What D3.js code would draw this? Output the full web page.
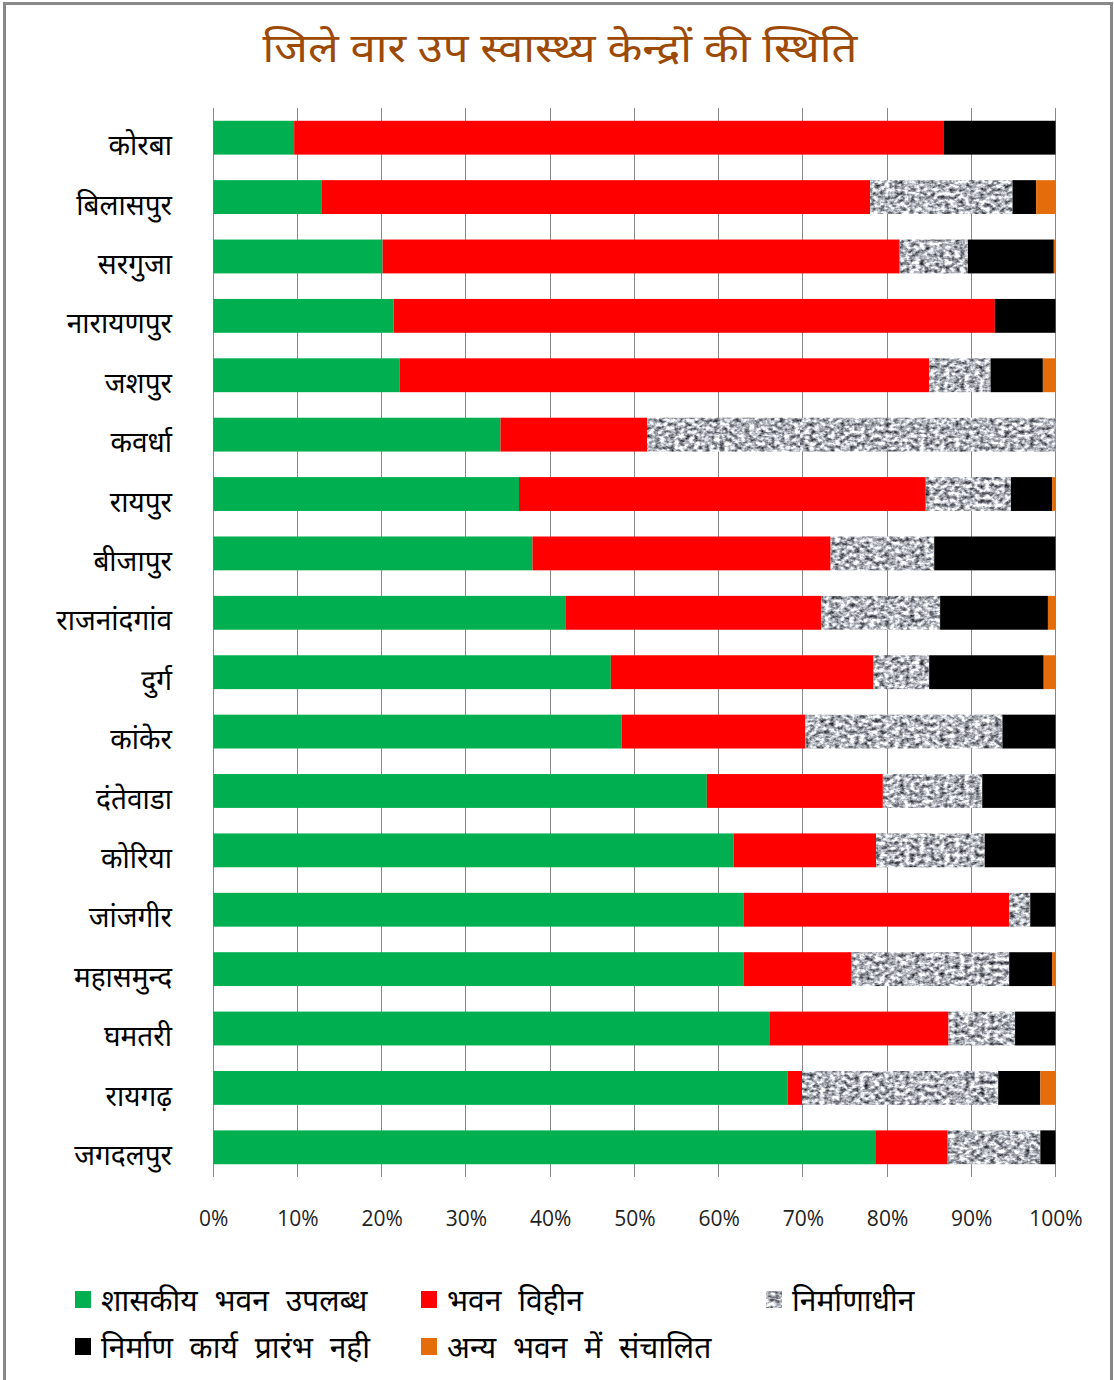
<!DOCTYPE html>
<html>
<head>
<meta charset="utf-8">
<script src="https://cdn.jsdelivr.net/npm/d3@7"></script>
<style>
  html, body { margin: 0; padding: 0; background: #fff; }
  svg { display: block; }
  .deva { font-family: "Noto Sans Devanagari", "Noto Sans", "Lohit Devanagari", sans-serif; }
</style>
</head>
<body>
<svg id="chart" width="1114" height="1380"></svg>
<script>
// District names, top to bottom
const districts = [
  "कोरबा", "बिलासपुर", "सरगुजा", "नारायणपुर", "जशपुर", "कवर्धा",
  "रायपुर", "बीजापुर", "राजनांदगांव", "दुर्ग", "कांकेर", "दंतेवाडा",
  "कोरिया", "जांजगीर", "महासमुन्द", "घमतरी", "रायगढ़", "जगदलपुर"
];

// Series names (legend order)
const seriesNames = [
  "शासकीय भवन उपलब्ध",
  "भवन विहीन",
  "निर्माणाधीन",
  "निर्माण कार्य प्रारंभ नही",
  "अन्य भवन में संचालित"
];

// Share of sub health centres per district (%)
const withBuilding   = [9.6, 12.9, 20.1, 21.4, 22.1, 34.1, 36.3, 37.9, 41.8, 47.2, 48.5, 58.6, 61.8, 63.0, 63.0, 66.1, 68.2, 78.6];
const withoutBuilding= [77.1, 65.1, 61.4, 71.4, 62.9, 17.4, 48.3, 35.4, 30.4, 31.2, 21.8, 20.9, 16.9, 31.5, 12.8, 21.2, 1.7, 8.6];
const underConstr    = [0, 16.9, 8.1, 0, 7.3, 48.5, 10.1, 12.3, 14.1, 6.6, 23.4, 11.8, 12.9, 2.5, 18.7, 7.9, 23.3, 11.0];
const notStarted     = [13.3, 2.8, 10.2, 7.2, 6.2, 0, 4.9, 14.4, 12.8, 13.6, 6.3, 8.7, 8.4, 3.0, 5.1, 4.8, 5.0, 1.8];
const otherBuilding  = [0, 2.3, 0.2, 0, 1.5, 0, 0.4, 0, 0.9, 1.4, 0, 0, 0, 0, 0.4, 0, 1.8, 0];

// Percent axis ticks
const tickValues = [0, 10, 20, 30, 40, 50, 60, 70, 80, 90, 100];

const title = "जिले वार उप स्वास्थ्य केन्द्रों की स्थिति";

const seriesValues = [withBuilding, withoutBuilding, underConstr, notStarted, otherBuilding];
const keys = ["s0", "s1", "s2", "s3", "s4"];
const table = districts.map((d, i) => {
  const row = { district: d };
  keys.forEach((k, j) => row[k] = seriesValues[j][i]);
  return row;
});

const fills = ["#00B050", "#FF0000", "url(#granite)", "#000000", "#E46C0A"];

const svg = d3.select("#chart");

// Granite-like grey texture for the "under construction" series
const defs = svg.append("defs");
const filt = defs.append("filter")
  .attr("id", "graniteNoise")
  .attr("filterUnits", "userSpaceOnUse")
  .attr("x", 0).attr("y", 0).attr("width", 400).attr("height", 400)
  .attr("color-interpolation-filters", "sRGB");
filt.append("feTurbulence")
  .attr("type", "fractalNoise")
  .attr("baseFrequency", "0.2 0.26")
  .attr("numOctaves", 3)
  .attr("seed", 11);
filt.append("feColorMatrix")
  .attr("type", "matrix")
  .attr("values", "1.6 0 0 0 -0.1  1.6 0 0 0 -0.09  1.6 0 0 0 -0.06  0 0 0 0 1");
filt.append("feGaussianBlur").attr("stdDeviation", 0.5);
const pat = defs.append("pattern")
  .attr("id", "granite")
  .attr("patternUnits", "userSpaceOnUse")
  .attr("width", 400).attr("height", 400);
pat.append("rect")
  .attr("width", 400).attr("height", 400)
  .attr("fill", "#bbb")
  .attr("filter", "url(#graniteNoise)");

// Outer frame
svg.append("rect")
  .attr("x", 4.5).attr("y", 3.5)
  .attr("width", 1107).attr("height", 1390)
  .attr("fill", "#fff")
  .attr("stroke", "#888")
  .attr("stroke-width", 3);

// Title
svg.append("text")
  .attr("class", "deva")
  .attr("x", 560).attr("y", 62)
  .attr("text-anchor", "middle")
  .attr("font-size", 40)
  .attr("textLength", 595)
  .attr("lengthAdjust", "spacingAndGlyphs")
  .attr("fill", "#9C4A06")
  .text(title);

const plot = { left: 213.3, right: 1055.5, top: 108, bottom: 1177 };

const x = d3.scaleLinear().domain([0, 100]).range([plot.left, plot.right]);
const y = d3.scaleBand().domain(districts)
  .range([plot.top, plot.bottom])
  .paddingInner(0.43).paddingOuter(0.215);

// Vertical gridlines
svg.append("g")
  .selectAll("line")
  .data(tickValues)
  .join("line")
  .attr("x1", d => x(d)).attr("x2", d => x(d))
  .attr("y1", plot.top).attr("y2", plot.bottom)
  .attr("stroke", "#888")
  .attr("stroke-width", 1)
  .attr("shape-rendering", "crispEdges");

// Stacked bars
const stack = d3.stack().keys(keys)(table);
svg.append("g")
  .selectAll("g")
  .data(stack)
  .join("g")
  .attr("fill", (d, i) => fills[i])
  .selectAll("rect")
  .data(d => d)
  .join("rect")
  .attr("x", d => x(d[0]))
  .attr("y", d => y(d.data.district))
  .attr("width", d => Math.max(0, x(d[1]) - x(d[0])))
  .attr("height", y.bandwidth());

// Category labels
svg.append("g")
  .selectAll("text")
  .data(districts)
  .join("text")
  .attr("class", "deva")
  .attr("x", 172)
  .attr("y", d => y(d) + y.bandwidth() / 2 + 5)
  .attr("dy", "0.45em")
  .attr("text-anchor", "end")
  .attr("font-size", 28)
  .attr("fill", "#000")
  .text(d => d);

// Percent axis labels
const xAxis = d3.axisBottom(x)
  .tickValues(tickValues)
  .tickFormat(d => d + "%")
  .tickSize(0)
  .tickPadding(0);
const ax = svg.append("g")
  .attr("transform", `translate(0, 1226)`)
  .call(xAxis);
ax.select(".domain").remove();
ax.selectAll("text")
  .attr("dy", 0)
  .attr("font-family", "'Liberation Sans Narrow', 'Open Sans', sans-serif")
  .attr("font-size", 21)
  .attr("fill", "#222");

// Legend
const legendPos = [
  { x: 75, y: 1299 }, { x: 421, y: 1299 }, { x: 766, y: 1299 },
  { x: 75, y: 1346 }, { x: 421, y: 1346 }
];
const lg = svg.append("g")
  .selectAll("g")
  .data(seriesNames)
  .join("g")
  .attr("transform", (d, i) => `translate(${legendPos[i].x}, ${legendPos[i].y})`);
lg.append("rect")
  .attr("x", 0).attr("y", -8)
  .attr("width", 16).attr("height", 17)
  .attr("fill", (d, i) => fills[i]);
lg.append("text")
  .attr("class", "deva")
  .attr("x", 26).attr("y", 0)
  .attr("dy", "0.4em")
  .attr("font-size", 30)
  .attr("word-spacing", 9)
  .attr("fill", "#000")
  .text(d => d);
</script>
</body>
</html>
